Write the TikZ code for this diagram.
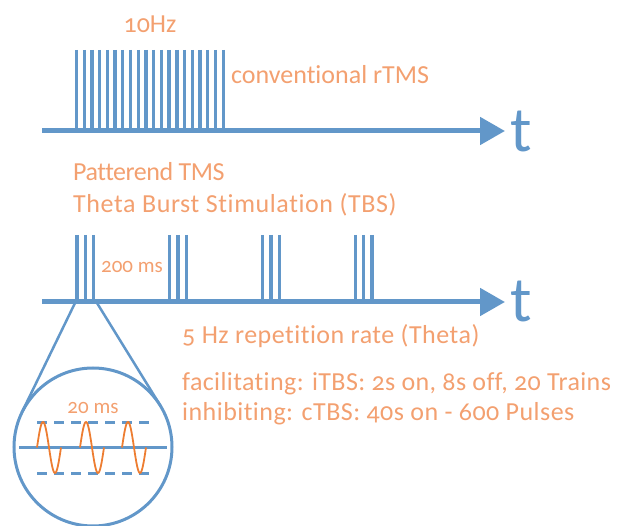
\documentclass[tikz,border=0pt]{standalone}
\usepackage{fontspec}
\setmainfont{Carlito}[Ligatures={NoCommon},Numbers=OldStyle]
\usetikzlibrary{arrows.meta}
\definecolor{tblue}{RGB}{98,151,201}
\definecolor{torange}{RGB}{243,160,112}
\definecolor{wave}{RGB}{237,125,49}
\newcommand{\lsp}[2]{{\addfontfeature{LetterSpace=#1}#2}}
\tikzset{
  axis/.style={draw=tblue,line width=5pt,-{Triangle[length=25pt,width=27pt]}},
  bar/.style={draw=tblue,line width=3.3pt},
  lbl/.style={text=torange,font=\fontsize{26}{30}\selectfont,anchor=base west,inner sep=0pt},
  small/.style={text=torange,font=\fontsize{21}{24}\selectfont,inner sep=0pt},
  tlab/.style={text=tblue,font=\fontsize{64}{70}\selectfont,anchor=base west,inner sep=0pt},
  dsh/.style={draw=tblue,line width=3pt,dash pattern=on 10pt off 7pt},
}
\begin{document}
\begin{tikzpicture}[x=1pt,y=-1pt]
\useasboundingbox (0,0) rectangle (618,526);
% axis 1
\coordinate (a1s) at (42,131);
\coordinate (a1e) at (505,131);
\draw[axis] (a1s) -- (a1e);
\node[tlab] (t1) at (510,152) {t};
\foreach \i in {0,...,19}{
  \draw[bar] ({76.5+\i*7.72},50) -- ({76.5+\i*7.72},131);
}
\node[small,font=\fontsize{26}{30}\selectfont,anchor=base] (hz) at (150,33) {10Hz};
\node[lbl] (conv) at (231,84) {conventional rTMS};
\node[lbl] (pat) at (73,181) {\lsp{-1.8}{Patterend TMS}};
\node[lbl] (tbs) at (73,213) {\lsp{2.3}{Theta Burst Stimulation (TBS)}};
% axis 2
\coordinate (a2s) at (42,302);
\coordinate (a2e) at (505,302);
\draw[axis] (a2s) -- (a2e);
\node[tlab] (t2) at (510,322) {t};
\foreach \b in {0,1,2,3}{
  \foreach \k in {0,1,2}{
    \draw[bar] ({77+\b*92.8+\k*8.3},235) -- ({77+\b*92.8+\k*8.3},302);
  }
}
\node[small,anchor=base west] (ms200) at (101,273) {200 ms};
\node[lbl] (rate) at (182,343) {\lsp{1.9}{5 Hz repetition rate (Theta)}};
\node[lbl] (fac) at (182,390) {\lsp{1.5}{facilitating: iTBS: 2s on, 8s off, 20 Trains}};
\node[lbl] (inh) at (182,420) {\lsp{1.8}{inhibiting: cTBS: 40s on - 600 Pulses}};
% zoom circle
\node[circle,draw=tblue,line width=3pt,minimum size=158pt,inner sep=0pt] (zc) at (93,447) {};
\coordinate (za) at (75,303);
\coordinate (zb) at (97,303);
\coordinate (ta) at (21.8,412.5);
\coordinate (tb) at (160.3,405.5);
\draw[draw=tblue,line width=2.5pt] (za) -- (ta);
\draw[draw=tblue,line width=2.5pt] (zb) -- (tb);
\coordinate (m1) at (19,447.5);
\coordinate (m2) at (167,447.5);
\draw[draw=tblue,line width=3pt] (m1) -- (m2);
\coordinate (u1) at (37,422);
\coordinate (u2) at (150,422);
\coordinate (l1) at (37,473);
\coordinate (l2) at (150,473);
\draw[dsh] (u1) -- (u2);
\draw[dsh] (l1) -- (l2);
\foreach \s in {37,80,122}{
  \draw[wave,line width=1.8pt,smooth] plot[domain=0:24,samples=40] ({\s+\x},{447.5-25.5*sin(\x*15)});
}
\node[small,anchor=base] (ms20) at (93,413) {20 ms};
\end{tikzpicture}
\end{document}
